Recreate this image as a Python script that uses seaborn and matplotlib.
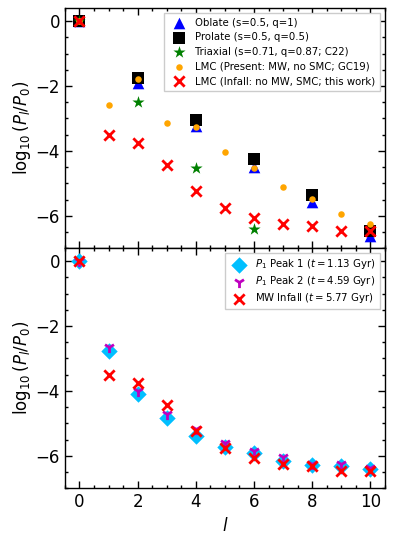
import matplotlib
matplotlib.use("Agg")
import matplotlib.pyplot as plt
import numpy as np
import seaborn as sns
from matplotlib.ticker import MultipleLocator

# multipole index
ell = [0, 1, 2, 3, 4, 5, 6, 7, 8, 9, 10]
ell_even = [0, 2, 4, 6, 8, 10]
ell_tri = [0, 2, 4, 6]

# top panel: halo shapes vs LMC
oblate = [0.0, -1.91, -3.24, -4.49, -5.58, -6.64]
prolate = [0.0, -1.75, -3.05, -4.25, -5.37, -6.46]
triaxial = [0.0, -2.49, -4.54, -6.41]
lmc_present = [0.0, -2.59, -1.79, -3.13, -3.26, -4.05, -4.54, -5.11, -5.47, -5.94, -6.25]
lmc_infall = [0.0, -3.50, -3.76, -4.45, -5.23, -5.75, -6.07, -6.25, -6.32, -6.46, -6.48]

# bottom panel: time snapshots
peak1 = [0.0, -2.78, -4.11, -4.85, -5.40, -5.73, -5.92, -6.17, -6.28, -6.33, -6.40]
peak2 = [0.0, -2.64, -4.01, -4.72, -5.19, -5.61, -5.86, -6.04, -6.24, -6.24, -6.37]
mw_infall = lmc_infall

sns.set_style("ticks")
plt.rcParams['font.family'] = ['DejaVu Sans']
plt.rcParams['mathtext.fontset'] = 'dejavusans'
for k in ['text.color', 'axes.labelcolor', 'xtick.color', 'ytick.color', 'axes.edgecolor']:
    plt.rcParams[k] = 'black'
plt.rcParams['axes.linewidth'] = 1.0

fig, (ax1, ax2) = plt.subplots(2, 1, figsize=(3.96, 5.43), dpi=100, sharex=True)
fig.subplots_adjust(left=0.164, right=0.972, top=0.985, bottom=0.101, hspace=0)

sns.scatterplot(x=ell_even, y=oblate, ax=ax1, marker='^', color='blue', s=70,
                linewidth=0, label='Oblate (s=0.5, q=1)', zorder=3)
sns.scatterplot(x=ell_even, y=prolate, ax=ax1, marker='s', color='black', s=65,
                linewidth=0, label='Prolate (s=0.5, q=0.5)', zorder=3)
sns.scatterplot(x=ell_tri, y=triaxial, ax=ax1, marker='*', color='green', s=85,
                linewidth=0, label='Triaxial (s=0.71, q=0.87; C22)', zorder=3)
sns.scatterplot(x=ell, y=lmc_present, ax=ax1, marker='o', color='orange', s=22,
                linewidth=0, label='LMC (Present: MW, no SMC; GC19)', zorder=3)
sns.scatterplot(x=ell, y=lmc_infall, ax=ax1, marker='x', color='red', s=55,
                linewidth=2, label='LMC (Infall: no MW, SMC; this work)', zorder=3)

sns.scatterplot(x=ell, y=peak1, ax=ax2, marker='D', color='deepskyblue', s=70,
                linewidth=0, label=r'$P_1$ Peak 1 ($t = 1.13$ Gyr)', zorder=3)
sns.scatterplot(x=ell, y=peak2, ax=ax2, marker='1', color='m', s=65,
                linewidth=2, label=r'$P_1$ Peak 2 ($t = 4.59$ Gyr)', zorder=3)
sns.scatterplot(x=ell, y=mw_infall, ax=ax2, marker='x', color='red', s=55,
                linewidth=2, label=r'MW Infall ($t = 5.77$ Gyr)', zorder=3)

for ax in (ax1, ax2):
    ax.set_xlim(-0.5, 10.5)
    ax.set_ylim(-7.0, 0.4)
    ax.xaxis.set_major_locator(MultipleLocator(2))
    ax.xaxis.set_minor_locator(MultipleLocator(0.5))
    ax.yaxis.set_major_locator(MultipleLocator(2))
    ax.yaxis.set_minor_locator(MultipleLocator(0.5))
    ax.tick_params(which='both', direction='in', top=True, right=True, labelsize=12,
                   width=1.0)
    ax.tick_params(which='major', length=5)
    ax.tick_params(which='minor', length=2.5)
    ax.set_ylabel(r'$\log_{10}(P_l/P_0)$', fontsize=12, labelpad=2)

ax1.legend(loc='upper right', fontsize=7.3, handletextpad=0.6, borderpad=0.45,
           labelspacing=0.45, fancybox=False, framealpha=1)
ax2.legend(loc='upper right', fontsize=7.3, handletextpad=0.6, borderpad=0.4,
           labelspacing=0.3, fancybox=False, framealpha=1)

ax2.set_xlabel(r'$l$', fontsize=12)

fig.savefig('out.png', dpi=100)
